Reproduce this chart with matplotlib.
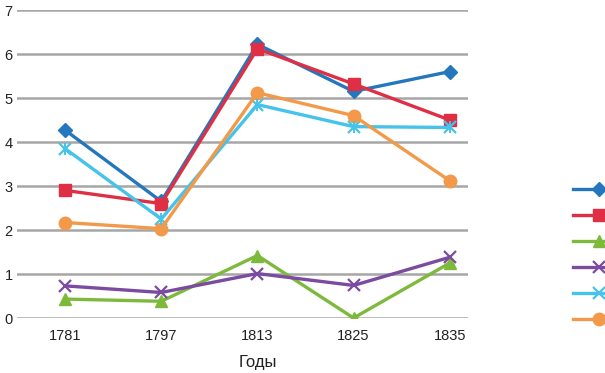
import numpy as np
import matplotlib.pyplot as plt

plt.rcParams['font.family'] = ['Liberation Sans', 'DejaVu Sans']

# data
years = ['1781', '1797', '1813', '1825', '1835']
blue = [4.27, 2.65, 6.22, 5.15, 5.6]
red = [2.9, 2.6, 6.12, 5.32, 4.5]
green = [0.43, 0.38, 1.42, 0.0, 1.25]
purple = [0.73, 0.58, 1.01, 0.74, 1.38]
cyan = [3.85, 2.25, 4.85, 4.35, 4.33]
orange = [2.17, 2.03, 5.12, 4.6, 3.12]

fig = plt.figure(figsize=(6.05, 3.73), dpi=100)
ax = fig.add_axes([17/605, 1-318/373, (468-17)/605, (318-10)/373])

x = np.arange(len(years))
series = [
    (blue, '#2477BC', 'D', 7),
    (red, '#DE2F45', 's', 8),
    (green, '#7DBA3C', '^', 9),
    (purple, '#7A4B9E', 'x', 9),
    (cyan, '#45C3EA', 'x', 9),
    (orange, '#F2994A', 'o', 9),
]
handles = []
for vals, col, mk, ms in series:
    h, = ax.plot(x, vals, color=col, lw=2.4, marker=mk, markersize=ms,
                 markeredgewidth=1.6 if mk == 'x' else 1, markeredgecolor=col)
    handles.append(h)
# cyan uses a star-like marker (x plus vertical line)
ax.plot(x, cyan, ls='none', marker='|', markersize=9, color='#45C3EA', mew=1.4)

ax.set_ylim(0, 7)
ax.set_xlim(-0.5, 4.19)
ax.set_yticks(range(8))
ax.set_xticks(x)
ax.set_xticklabels(years)
ax.yaxis.grid(True, color='#A6A6A6', lw=1.8)
ax.set_axisbelow(True)
for s in ax.spines.values():
    s.set_visible(False)
ax.tick_params(length=0, labelsize=10.5, colors='#222222')
ax.tick_params(axis='x', pad=8)
ax.tick_params(axis='y', pad=3)

fig.text(258/605, 1-362/373, 'Годы', ha='center', va='center', fontsize=12, color='#222222')

fig.legend(handles, [''] * 6, loc='upper left', bbox_to_anchor=(560/605, 1-170/373),
           frameon=False, handlelength=3.5, labelspacing=0.82, fontsize=10.5)

fig.savefig('out.png')
